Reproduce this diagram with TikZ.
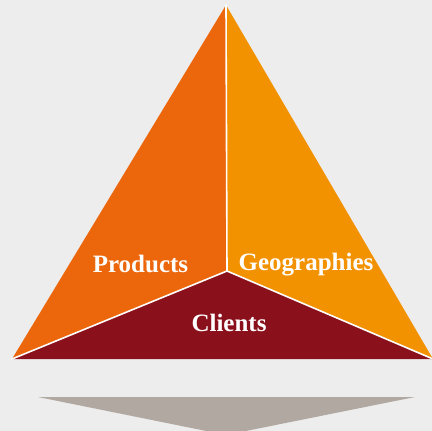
\documentclass[tikz,border=0pt]{standalone}
\usepackage{tikz}
\usetikzlibrary{positioning}
\usepackage{xcolor}
\usepackage{fontspec}
\setmainfont{Liberation Serif}
\definecolor{bgGrey}{HTML}{EDEDED}
\definecolor{prodOrange}{HTML}{EC670B}
\definecolor{geoOrange}{HTML}{F39200}
\definecolor{clientRed}{HTML}{8A111B}
\definecolor{arrowGrey}{HTML}{B1A9A1}

\begin{document}
\begin{tikzpicture} [
    x = 1pt, y = -1pt,
    divider/.style = { draw = white, line width = 1.6pt, line cap = round },
    facetext/.style = { text = white, inner sep = 0, anchor = base, font = \bfseries\fontsize{25}{28}\selectfont }
    ]

    \fill [bgGrey] (0,0) rectangle (432,431);
    \useasboundingbox (0,0) rectangle (432,431);

    \coordinate (apex) at (226,5);
    \coordinate (left) at (12,359);
    \coordinate (right) at (433,359);
    \coordinate (centre) at (227,271);

    \fill [prodOrange] (apex) -- (centre) -- (left) -- cycle;
    \fill [geoOrange] (apex) -- (right) -- (centre) -- cycle;
    \fill [clientRed] (left) -- (centre) -- (right) -- cycle;

    \draw [divider] (centre) -- (apex);
    \draw [divider] (centre) -- (left);
    \draw [divider] (centre) -- (right);

    \node [facetext] (products) at (140.5,272) {Products};
    \node [facetext] (geographies) at (306,270) {Geographies};
    \node [facetext] (clients) at (229,331) {Clients};

    % arrow below
    \coordinate (arrowL) at (38,397);
    \coordinate (arrowR) at (415,397);
    \coordinate (arrowTip) at (226,435);
    \fill [arrowGrey] (arrowL) -- (arrowR) -- (arrowTip) -- cycle;

\end{tikzpicture}
\end{document}
